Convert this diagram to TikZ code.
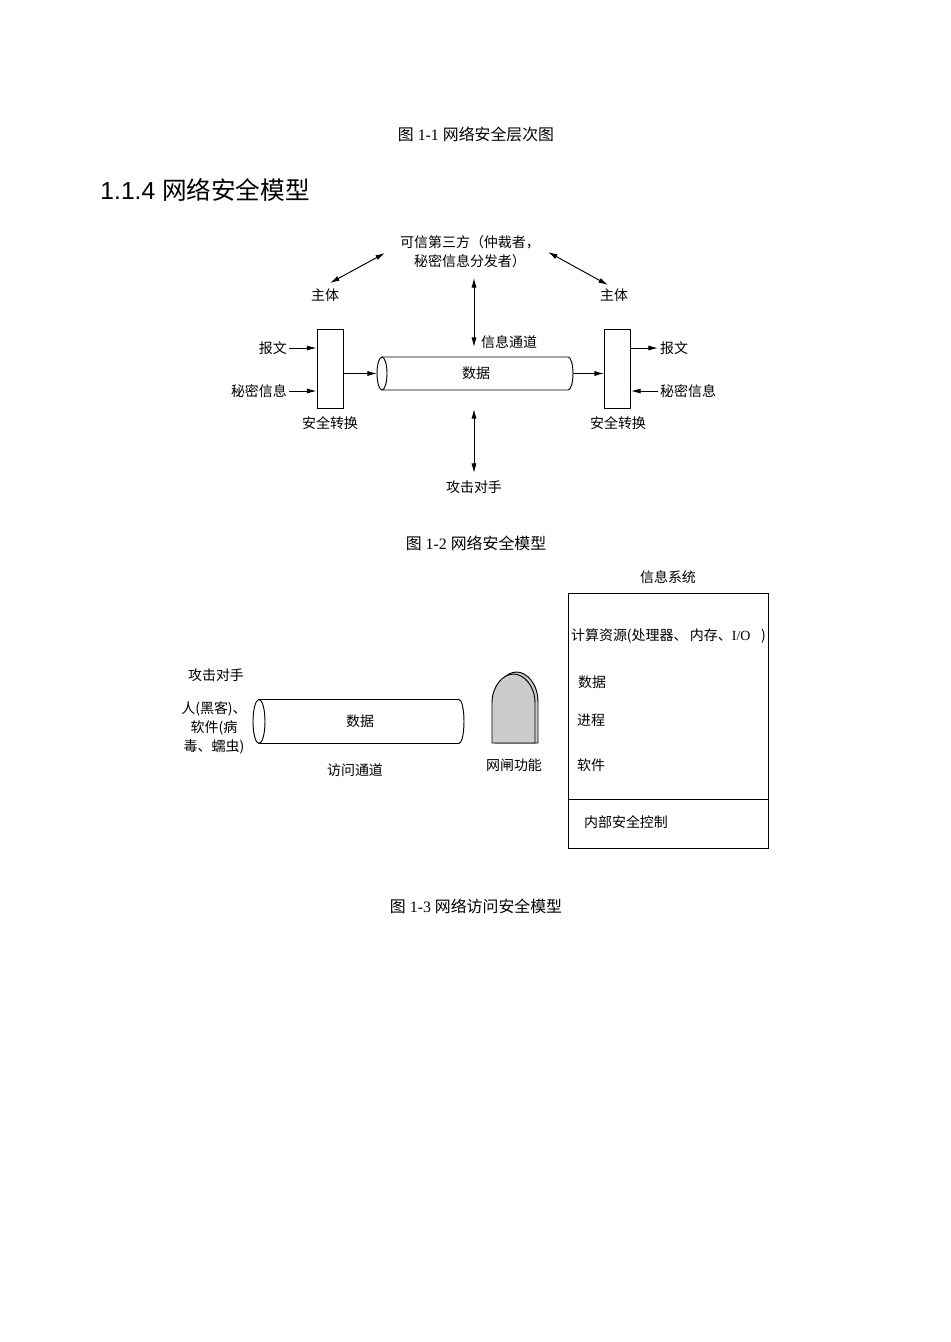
\documentclass[tikz,border=0pt]{standalone}
\usepackage{fontspec}
\setmainfont{Liberation Serif}
\setsansfont{Liberation Sans}
\newfontfamily\cjk{Noto Sans CJK SC}
\usetikzlibrary{arrows.meta}
\newcommand\pxu{0.02213cm}
\definecolor{gatefill}{RGB}{204,204,204}
\begin{document}
\begin{tikzpicture}[x=\pxu, y=-\pxu, line width=0.6pt,
  lbl/.style={font=\cjk\fontsize{8.8}{11.8}\selectfont, inner sep=1pt},
  capt/.style={font=\fontsize{10}{12}\selectfont, inner sep=0pt},
  arr/.style={-{Latex[length=6pt,width=3.2pt]}},
  dbl/.style={{Latex[length=6pt,width=3.2pt]}-{Latex[length=6pt,width=3.2pt]}},
  secbox/.style={draw, minimum width=26*\pxu, minimum height=79*\pxu, inner sep=0pt}]
\useasboundingbox (0,0) rectangle (950,1342);
% titres
\node[capt] (cap1) at (476,134) {{\cjk 图} 1-1 {\cjk 网络安全层次图}};
\node[anchor=west, inner sep=0pt, font=\sffamily\fontsize{15.5}{18}\selectfont] (head) at (100,190) {1.1.4 {\cjk 网络安全模型}};
% modele : tiers et sujets
\node[lbl, align=center] (ttp) at (470,252) {可信第三方（仲裁者，\\秘密信息分发者）};
\node[lbl] (subjL) at (325,295) {主体};
\node[lbl] (subjR) at (614,295) {主体};
\coordinate (tl) at (385,253);
\coordinate (sl) at (330,283);
\coordinate (tr) at (548,252);
\coordinate (sr) at (608,285);
\draw[dbl] (tl) -- (sl);
\draw[dbl] (tr) -- (sr);
% boites de conversion
\node[secbox] (boxL) at (330,368.5) {};
\node[secbox] (boxR) at (617.5,368.5) {};
\node[lbl] (convL) at (330,423) {安全转换};
\node[lbl] (convR) at (618,423) {安全转换};
\node[lbl, anchor=east] (msgL) at (289,348) {报文};
\node[lbl, anchor=east] (keyL) at (289,391) {秘密信息};
\node[lbl, anchor=west] (msgR) at (658,348) {报文};
\node[lbl, anchor=west] (keyR) at (658,391) {秘密信息};
\draw[arr] (msgL.east) -- (msgL.east -| boxL.west);
\draw[arr] (keyL.east) -- (keyL.east -| boxL.west);
\draw[arr] (msgR.west -| boxR.east) -- (msgR.west);
\draw[arr] (keyR.west) -- (keyR.west -| boxR.east);
% tuyau
\draw (382,357) -- (568,357) arc[start angle=90, end angle=-90, x radius=5*\pxu, y radius=16.5*\pxu] -- (382,390);
\draw (382,373.5) ellipse [x radius=5*\pxu, y radius=16.5*\pxu];
\node[lbl] (data1) at (476,373) {数据};
\coordinate (p1in) at (377,373.5);
\coordinate (p1out) at (573,373.5);
\draw[arr] (boxL.east |- p1in) -- (p1in);
\draw[arr] (p1out) -- (p1out -| boxR.west);
% verticales
\coordinate (chTop) at (474,278);
\coordinate (chBot) at (474,347);
\draw[dbl] (chTop) -- (chBot);
\node[lbl, anchor=west] (chan) at (479,342) {信息通道};
\node[lbl] (adv1) at (474,487) {攻击对手};
\coordinate (atTop) at (474,409);
\coordinate (atBot) at (474,473);
\draw[dbl] (atTop) -- (atBot);
\node[capt] (cap2) at (476,543) {{\cjk 图} 1-2 {\cjk 网络安全模型}};
% acces : adversaire
\node[lbl] (adv2) at (216,675) {攻击对手};
\node[lbl, align=center] (who) at (214,728) {人(黑客)、\\软件(病\\毒、蠕虫)};
\draw (259,699.5) -- (459,699.5) arc[start angle=90, end angle=-90, x radius=5*\pxu, y radius=22*\pxu] -- (259,743.5);
\draw (259,721.5) ellipse [x radius=6*\pxu, y radius=22*\pxu];
\node[lbl] (data2) at (360,721) {数据};
\node[lbl] (chan2) at (355,770) {访问通道};
% passerelle
\filldraw[fill=gatefill] (495,743) -- (495,702) .. controls (495,684) and (506,672) .. (516.5,672) .. controls (527,672) and (538,684) .. (538,702) -- (538,743) -- cycle;
\filldraw[fill=gatefill] (492,743) -- (492,703) .. controls (492,686) and (503,674) .. (513.5,674) .. controls (524,674) and (535,686) .. (535,703) -- (535,743) -- cycle;
\node[lbl] (gate) at (514,765) {网闸功能};
% systeme
\node[lbl] (sysT) at (668,577) {信息系统};
\node[draw, minimum width=200*\pxu, minimum height=255*\pxu, inner sep=0pt] (sys) at (668,720.5) {};
\coordinate (divL) at (568,799);
\draw (divL) -- (divL -| sys.east);
\node[lbl, anchor=west] (res) at (569,636) {计算资源(处理器、\,内存、{\rmfamily I/O\,\, }\,)};
\node[lbl, anchor=west] (sdata) at (576,682) {数据};
\node[lbl, anchor=west] (proc) at (575,720) {进程};
\node[lbl, anchor=west] (soft) at (575,765) {软件};
\node[lbl, anchor=west] (ictl) at (582,822) {内部安全控制};
\node[capt] (cap3) at (476,906) {{\cjk 图} 1-3 {\cjk 网络访问安全模型}};
\end{tikzpicture}
\end{document}
